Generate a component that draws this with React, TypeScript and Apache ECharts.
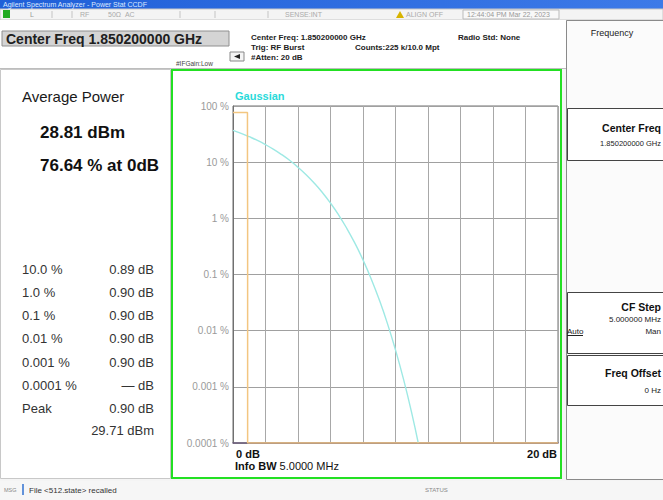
import React, { useEffect, useRef } from "react";
import * as echarts from "echarts";

// ---- data ----
const yTickLabels = ["0.0001 %", "0.001 %", "0.01 %", "0.1 %", "1 %", "10 %", "100 %"];
const xTickLabels = ["0 dB", "20 dB"];
const gaussDb = [0, 0.5, 1, 1.5, 2, 2.5, 3, 3.5, 4, 4.5, 5, 5.5, 6, 6.5, 7, 7.5, 8, 8.5, 9, 9.5, 10, 10.5, 11, 11.4];
const gaussPct = [36.8, 32.6, 28.4, 24.4, 20.5, 16.9, 13.6, 10.7, 8.11, 5.97, 4.23, 2.88, 1.87, 1.15, 0.666, 0.361, 0.182, 0.0843, 0.0355, 0.0135, 0.00454, 0.00134, 0.000341, 0.0001];
const traceDb = [0, 0.89, 0.89, 0.9, 0.9, 20];
const tracePct = [76.64, 76.64, 10, 1, 0.0001, 0.0001];
const statLabels = ["10.0 %", "1.0 %", "0.1 %", "0.01 %", "0.001 %", "0.0001 %", "Peak"];
const statValues = ["0.89 dB", "0.90 dB", "0.90 dB", "0.90 dB", "0.90 dB", "\u2014 dB", "0.90 dB"];
const peakPower = "29.71 dBm";
const avgPower = "28.81 dBm";
const avgPct = "76.64 % at 0dB";

const FONT = "Liberation Sans, Arial, sans-serif";

function txt(text: string, x: number, y: number, size: number, opts: any = {}) {
  return {
    type: "text",
    z: opts.z ?? 10,
    style: {
      text,
      x,
      y,
      fill: opts.color ?? "#222",
      font: `${opts.weight ?? "normal"} ${size}px ${FONT}`,
      align: opts.align ?? "left",
      verticalAlign: "middle",
      textAlign: opts.align ?? "left",
      textVerticalAlign: "middle",
    },
  };
}

export default function App() {
  const ref = useRef<HTMLDivElement>(null);
  useEffect(() => {
    if (!ref.current) return;
    const chart = echarts.init(ref.current, undefined, { renderer: "svg" });
    const graphic: any[] = [];
    // title bar
    graphic.push({
      type: "rect", z: 1,
      shape: { x: 0, y: 0, width: 663, height: 9 },
      style: { fill: new echarts.graphic.LinearGradient(0, 0, 1, 0, [{ offset: 0, color: "#1f5fd8" }, { offset: 1, color: "#3d7ae8" }]) },
    });
    graphic.push(txt("Agilent Spectrum Analyzer - Power Stat CCDF", 3, 4.5, 7, { color: "#dce8ff" }));
    // status row
    graphic.push({ type: "rect", z: 1, shape: { x: 0, y: 9, width: 663, height: 11 }, style: { fill: "#f4f4f4", stroke: "#c8c8c8", lineWidth: 1 } });
    graphic.push({ type: "rect", z: 2, shape: { x: 3, y: 10, width: 7, height: 8 }, style: { fill: "#22aa22" } });
    graphic.push(txt("L", 30, 14.5, 7, { color: "#999" }));
    graphic.push(txt("RF", 80, 14.5, 7, { color: "#aaa" }));
    graphic.push(txt("50\u03a9  AC", 108, 14.5, 7, { color: "#aaa" }));
    graphic.push(txt("SENSE:INT", 285, 14.5, 7, { color: "#aaa" }));
    graphic.push({ type: "polygon", z: 2, shape: { points: [[396, 18], [400, 11], [404, 18]] }, style: { fill: "#d8b400" } });
    graphic.push(txt("ALIGN OFF", 406, 14.5, 7, { color: "#aaa" }));
    graphic.push({ type: "rect", z: 2, shape: { x: 463, y: 10, width: 96, height: 9 }, style: { fill: "#f8f8f8", stroke: "#bbb", lineWidth: 1 } });
    graphic.push(txt("12:44:04 PM Mar 22, 2023", 467, 14.5, 7, { color: "#999" }));
    for (const sx of [52, 72, 180, 215, 268]) {
      graphic.push({ type: "line", z: 2, shape: { x1: sx, y1: 11, x2: sx, y2: 18 }, style: { stroke: "#c4c4c4", lineWidth: 1 } });
    }
    // header
    graphic.push({ type: "rect", z: 1, shape: { x: 0, y: 20, width: 566, height: 48 }, style: { fill: "#ffffff" } });
    graphic.push({ type: "line", z: 2, shape: { x1: 0, y1: 68.5, x2: 566, y2: 68.5 }, style: { stroke: "#bdbdbd", lineWidth: 1 } });
    graphic.push({ type: "rect", z: 2, shape: { x: 2, y: 31, width: 227, height: 15 }, style: { fill: "#d4d4d4", stroke: "#909090", lineWidth: 1 } });
    graphic.push(txt("Center Freq 1.850200000 GHz", 6, 38.5, 14, { weight: "bold", color: "#202020" }));
    graphic.push({ type: "rect", z: 2, shape: { x: 230, y: 52, width: 14, height: 9 }, style: { fill: "#f4f4f4", stroke: "#888", lineWidth: 1 } });
    graphic.push({ type: "polygon", z: 3, shape: { points: [[234, 56.5], [240, 54], [240, 59]] }, style: { fill: "#222" } });
    graphic.push(txt("#IFGain:Low", 176, 63.5, 6.5, { color: "#444" }));
    graphic.push(txt("Center Freq: 1.850200000 GHz", 251, 37.5, 8, { weight: "bold", color: "#222" }));
    graphic.push(txt("Trig: RF Burst", 251, 47.5, 8, { weight: "bold", color: "#222" }));
    graphic.push(txt("#Atten: 20 dB", 251, 57.5, 8, { weight: "bold", color: "#222" }));
    graphic.push(txt("Counts:225 k/10.0 Mpt", 355, 47.5, 8, { weight: "bold", color: "#222" }));
    graphic.push(txt("Radio Std: None", 458, 37.5, 8, { weight: "bold", color: "#222" }));
    // right panel
    graphic.push({ type: "rect", z: 1, shape: { x: 566.5, y: 20.5, width: 100, height: 459 }, style: { fill: "#fbfbfb", stroke: "#8a8a8a", lineWidth: 1 } });
    graphic.push(txt("Frequency", 612, 33, 9, { color: "#222", align: "center" }));
    for (const [by, bh] of [[108, 52], [292, 61], [355, 50]]) {
      graphic.push({ type: "rect", z: 2, shape: { x: 567.5, y: by + 0.5, width: 100, height: bh }, style: { fill: "#ffffff", stroke: "#444", lineWidth: 1 } });
    }
    graphic.push(txt("Center Freq", 661, 128, 10.5, { weight: "bold", align: "right", color: "#111" }));
    graphic.push(txt("1.850200000 GHz", 661, 143, 7.5, { align: "right", color: "#222" }));
    graphic.push(txt("CF Step", 661, 307, 10.5, { weight: "bold", align: "right", color: "#111" }));
    graphic.push(txt("5.000000 MHz", 661, 319, 8, { align: "right", color: "#222" }));
    graphic.push(txt("Auto", 567, 331, 8, { color: "#222" }));
    graphic.push({ type: "line", z: 3, shape: { x1: 567, y1: 335.5, x2: 583, y2: 335.5 }, style: { stroke: "#222", lineWidth: 1 } });
    graphic.push(txt("Man", 661, 331, 8, { align: "right", color: "#222" }));
    graphic.push(txt("Freq Offset", 661, 373, 10.5, { weight: "bold", align: "right", color: "#111" }));
    graphic.push(txt("0 Hz", 661, 390, 8, { align: "right", color: "#222" }));
    // left panel
    graphic.push({ type: "rect", z: 1, shape: { x: 0.5, y: 69.5, width: 170, height: 409 }, style: { fill: "#ffffff", stroke: "#c8c8c8", lineWidth: 1 } });
    graphic.push(txt("Average Power", 22, 96, 15, { color: "#1a1a1a" }));
    graphic.push(txt(avgPower, 40, 132, 17, { color: "#111", weight: "bold" }));
    graphic.push(txt(avgPct, 40, 165, 17, { color: "#111", weight: "bold" }));
    statLabels.forEach((l, i) => {
      const y = 269 + i * 23.3;
      graphic.push(txt(l, 22, y, 13, { color: "#333" }));
      graphic.push(txt(statValues[i], 154, y, 13, { color: "#333", align: "right" }));
    });
    graphic.push(txt(peakPower, 154, 430, 13, { color: "#333", align: "right" }));
    // chart frame (green)
    graphic.push({ type: "rect", z: 1, shape: { x: 172, y: 70, width: 389, height: 408 }, style: { fill: "#ffffff", stroke: "#22e022", lineWidth: 2 } });
    graphic.push(txt("Gaussian", 235, 96, 11, { color: "#2adada", weight: "bold" }));
    graphic.push({
      type: "text", z: 10,
      style: {
        x: 235, y: 466, verticalAlign: "middle", textVerticalAlign: "middle",
        text: "{b|Info BW} {n|5.0000 MHz}",
        rich: {
          b: { font: `bold 11px ${FONT}`, fill: "#111" },
          n: { font: `normal 11px ${FONT}`, fill: "#111" },
        },
        font: `normal 11px ${FONT}`,
      },
    });
    // bottom status bar
    graphic.push({ type: "rect", z: 1, shape: { x: 0, y: 481, width: 663, height: 19 }, style: { fill: "#f6f6f6" } });
    graphic.push(txt("MSG", 4, 490, 5.5, { color: "#888" }));
    graphic.push({ type: "line", z: 2, shape: { x1: 23, y1: 484, x2: 23, y2: 495 }, style: { stroke: "#3070d0", lineWidth: 1.5 } });
    graphic.push(txt("File <512.state> recalled", 29, 490, 8, { color: "#333" }));
    graphic.push(txt("STATUS", 425, 490, 6, { color: "#888" }));

    chart.setOption({
      animation: false,
      backgroundColor: "#f4f4f4",
      graphic,
      grid: { left: 233, top: 106, width: 325, height: 337, show: true, borderColor: "#707070", borderWidth: 1, backgroundColor: "#ffffff", z: 5 },
      xAxis: {
        type: "value", min: 0, max: 20, interval: 2,
        axisLine: { show: true, lineStyle: { color: "#6a5a7a", width: 1.5 } },
        axisTick: { show: false },
        splitLine: { show: true, lineStyle: { color: "#a8a8a8", width: 1 } },
        axisLabel: {
          formatter: (v: number) => (v === 0 ? xTickLabels[0] : v === 20 ? xTickLabels[1] : ""),
          color: "#111", fontSize: 11, fontWeight: "bold", fontFamily: FONT, margin: 5,
          alignMinLabel: "left", alignMaxLabel: "right",
          padding: [0, 1, 0, 3],
        },
        z: 5,
      },
      yAxis: {
        type: "log", logBase: 10, min: 0.0001, max: 100,
        axisLine: { show: true, lineStyle: { color: "#707070" } },
        axisTick: { show: false },
        splitLine: { show: true, lineStyle: { color: "#a0a0a0", width: 1 } },
        axisLabel: {
          formatter: (v: number) => yTickLabels[Math.round(Math.log10(v)) + 4] ?? "",
          color: "#9a9a9a", fontSize: 10, fontFamily: FONT, margin: 4,
        },
        z: 5,
      },
      series: [
        {
          type: "line", name: "Gaussian", smooth: true, showSymbol: false, symbol: "none", z: 6,
          data: gaussDb.map((d, i) => [d, gaussPct[i]]),
          lineStyle: { color: "#9ee9e4", width: 1.4 },
        },
        {
          type: "line", name: "Trace", showSymbol: false, symbol: "none", z: 7,
          data: traceDb.map((d, i) => [d, tracePct[i]]),
          lineStyle: { color: "#f3c680", width: 1.5 },
        },
      ],
    });
    return () => chart.dispose();
  }, []);
  return <div ref={ref} style={{ position: "fixed", left: 0, top: 0, width: 663, height: 500 }} />;
}
